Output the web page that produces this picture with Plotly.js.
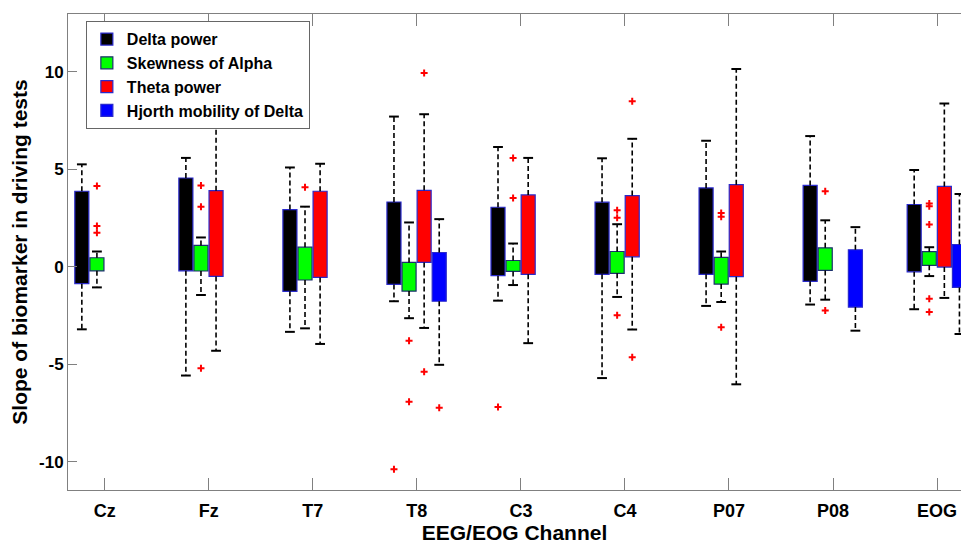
<!DOCTYPE html>
<html><head><meta charset="utf-8">
<script src="https://cdn.plot.ly/plotly-3.0.1.min.js"></script>
<style>html,body{margin:0;padding:0;background:#fff;overflow:hidden}</style>
</head><body><div id="chart" style="width:961px;height:546px"></div>
<script>
const channels = ['Cz','Fz','T7','T8','C3','C4','P07','P08','EOG'];
const seriesNames = ['Delta power','Skewness of Alpha','Theta power','Hjorth mobility of Delta'];
const yTickVals = [-10, -5, 0, 5, 10];
const yTickText = ['-10', '-5', '0', '5', '10'];

// Delta power
const deltaLo = [-3.2, -5.57, -3.33, -1.76, -1.73, -5.7, -2.0, -1.93, -2.17];
const deltaQ1 = [-0.86, -0.2, -1.25, -0.9, -0.45, -0.38, -0.38, -0.74, -0.25];
const deltaQ3 = [3.88, 4.56, 2.94, 3.33, 3.06, 3.32, 4.05, 4.18, 3.2];
const deltaHi = [5.26, 5.59, 5.1, 7.71, 6.15, 5.57, 6.47, 6.71, 4.97];
const deltaOut = [[], [], [], [-10.37], [-7.19], [], [], [], []];

// Skewness of Alpha
const skewLo = [-1.05, -1.44, -3.15, -2.63, -0.93, -1.54, -1.8, -1.68, -0.47];
const skewQ1 = [-0.2, -0.21, -0.67, -1.24, -0.23, -0.33, -0.88, -0.18, 0.08];
const skewQ3 = [0.47, 1.1, 1.01, 0.23, 0.33, 0.79, 0.49, 0.98, 0.78];
const skewHi = [0.79, 1.51, 3.09, 2.28, 1.2, 2.19, 0.79, 2.39, 1.01];
const skewOut = [[4.15, 2.1, 1.75], [4.17, 3.08, -5.2], [4.08], [-3.78, -6.91], [5.59, 3.54],
                 [2.91, 2.52, -2.48], [2.77, 2.57, -3.09], [3.88, -2.24], [3.25, 3.11, 2.17, -1.63, -2.31]];

// Theta power
const thetaLo = [null, -4.3, -3.95, -3.13, -3.91, -3.21, -6.02, null, -1.59];
const thetaQ1 = [null, -0.49, -0.54, 0.23, -0.38, 0.52, -0.5, null, -0.01];
const thetaQ3 = [null, 3.91, 3.88, 3.93, 3.69, 3.66, 4.22, null, 4.13];
const thetaHi = [null, 7.7, 5.29, 7.83, 5.59, 6.57, 10.15, null, 8.38];
const thetaOut = [[], [], [], [9.95, -5.38], [], [8.5, -4.63], [], [], []];

// Hjorth mobility of Delta
const hjorthLo = [null, null, null, -5.02, null, null, null, -3.27, -3.44];
const hjorthQ1 = [null, null, null, -1.76, null, null, null, -2.06, -1.05];
const hjorthQ3 = [null, null, null, 0.74, null, null, null, 0.88, 1.15];
const hjorthHi = [null, null, null, 2.45, null, null, null, 2.04, 3.74];
const hjorthOut = [[], [], [], [-7.22], [], [], [], [], []];

const series = [
  {lo: deltaLo, q1: deltaQ1, q3: deltaQ3, hi: deltaHi, out: deltaOut},
  {lo: skewLo, q1: skewQ1, q3: skewQ3, hi: skewHi, out: skewOut},
  {lo: thetaLo, q1: thetaQ1, q3: thetaQ3, hi: thetaHi, out: thetaOut},
  {lo: hjorthLo, q1: hjorthQ1, q3: hjorthQ3, hi: hjorthHi, out: hjorthOut}
];
const fills = ['#000000', '#00ff00', '#ff0000', '#0000ff'];
const edges = ['#2a2acc', '#1c2f6e', '#2a2acc', '#2a2acc'];
const offsets = [-0.22, -0.075, 0.07, 0.215];
const boxW = 0.135;

const traces = [];
const whiskerTraces = [];
const capTraces = [];
const outTraces = [];
series.forEach((s, k) => {
  const xs = channels.map((c, i) => i + 1 + offsets[k]);
  traces.push({
    type: 'bar', name: seriesNames[k], x: xs,
    base: s.q1, y: s.q3.map((v, i) => v === null ? null : v - s.q1[i]),
    width: boxW,
    marker: {color: fills[k], line: {color: edges[k], width: 1.2}},
    hoverinfo: 'skip'
  });
  const wx = [], wy = [], cx = [], cy = [];
  channels.forEach((c, i) => {
    if (s.q1[i] === null) return;
    wx.push(xs[i], xs[i], null, xs[i], xs[i], null);
    wy.push(s.q3[i], s.hi[i], null, s.q1[i], s.lo[i], null);
    cx.push(xs[i], xs[i]);
    cy.push(s.hi[i], s.lo[i]);
  });
  whiskerTraces.push({
    type: 'scatter', mode: 'lines', x: wx, y: wy, showlegend: false, hoverinfo: 'skip',
    line: {color: '#000', width: 1.6, dash: '5px,3px'}
  });
  capTraces.push({
    type: 'scatter', mode: 'markers', x: cx, y: cy, showlegend: false, hoverinfo: 'skip',
    marker: {symbol: 'line-ew-open', size: 7, color: '#000', line: {color: '#000', width: 2}}
  });
  const ox = [], oy = [];
  s.out.forEach((arr, i) => arr.forEach(v => { ox.push(xs[i]); oy.push(v); }));
  outTraces.push({
    type: 'scatter', mode: 'markers', x: ox, y: oy, showlegend: false, hoverinfo: 'skip',
    marker: {symbol: 'cross-thin-open', size: 5, color: '#ff0000', line: {color: '#ff0000', width: 2}}
  });
});

const font = {family: 'Liberation Sans, Arial, sans-serif', color: '#000', weight: 'bold'};
const layout = {
  width: 961, height: 546,
  margin: {l: 68, r: 0, t: 14, b: 56},
  paper_bgcolor: '#fff', plot_bgcolor: '#fff',
  barmode: 'overlay',
  showlegend: true,
  legend: {
    x: 0.02, y: 0.985, xanchor: 'left', yanchor: 'top',
    bgcolor: '#fff', bordercolor: '#666', borderwidth: 1,
    font: Object.assign({}, font, {size: 16}), tracegroupgap: 0, itemwidth: 30
  },
  xaxis: {
    range: [0.647, 9.23], tickmode: 'array', tickvals: channels.map((c, i) => i + 1), ticktext: channels,
    ticks: 'inside', ticklen: 12, tickcolor: '#808080', tickwidth: 1,
    showline: true, linecolor: '#808080', linewidth: 1, mirror: 'ticks',
    showgrid: false, zeroline: false, ticklabelstandoff: 4,
    tickfont: Object.assign({}, font, {size: 18}),
    title: {text: 'EEG/EOG Channel', font: Object.assign({}, font, {size: 21}), standoff: 2}
  },
  yaxis: {
    range: [-11.44, 12.97], tickmode: 'array', tickvals: yTickVals, ticktext: yTickText,
    ticks: 'inside', ticklen: 9, tickcolor: '#808080', tickwidth: 1,
    showline: true, linecolor: '#808080', linewidth: 1, mirror: false,
    showgrid: false, zeroline: false,
    tickfont: Object.assign({}, font, {size: 17}),
    title: {text: 'Slope of biomarker in driving tests', font: Object.assign({}, font, {size: 21}), standoff: 5}
  }
};

Plotly.newPlot('chart', traces.concat(whiskerTraces, capTraces, outTraces), layout, {displayModeBar: false, staticPlot: true});
</script></body></html>
